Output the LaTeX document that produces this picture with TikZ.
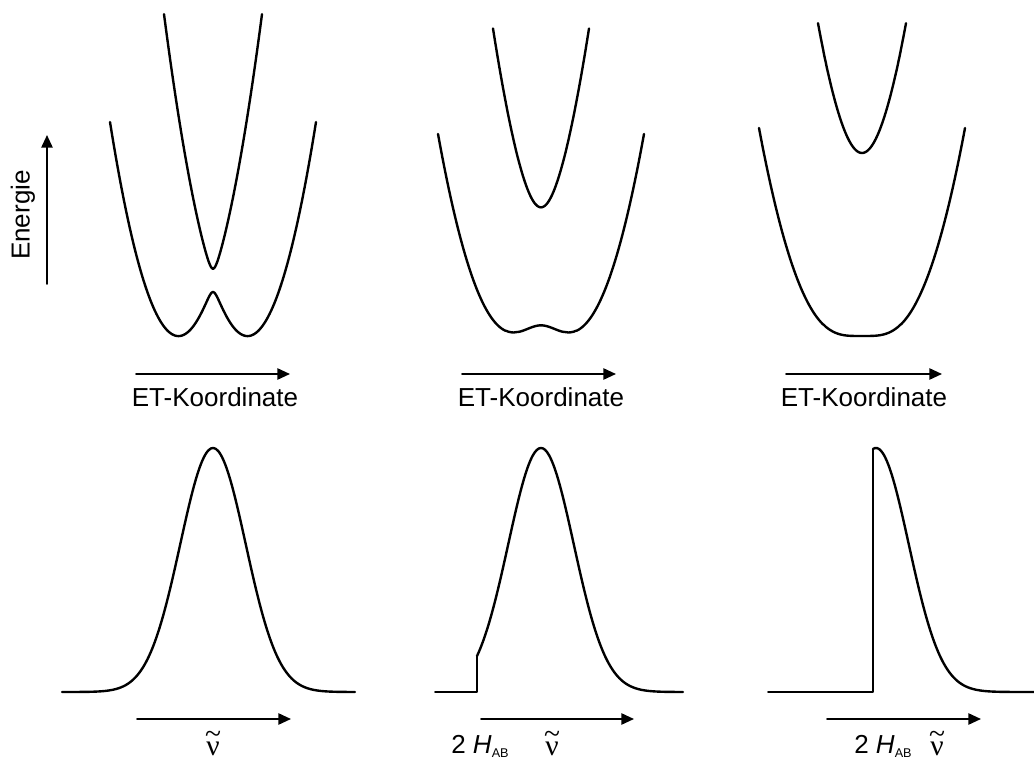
\documentclass[tikz,border=0pt]{standalone}
\usepackage{fontspec}
\setmainfont{Liberation Sans}
\newfontfamily\nufont{Liberation Serif}
\usetikzlibrary{arrows.meta}

\tikzset{
  curve/.style={line width=1.7pt},
  stepline/.style={line width=1.2pt},
  axisarrow/.style={line width=1.3pt, -{Triangle[length=9pt,width=8pt]}},
  lbl/.style={font=\fontsize{18.5}{20}\selectfont, inner sep=0pt},
}
\newcommand{\wavenum}{{\nufont\fontsize{21}{22}\selectfont
  \ooalign{ν\cr\hidewidth\raisebox{0.40em}{\char"7E}\hidewidth\cr}}}
\newcommand{\twoHab}{2 \textit{H}\raisebox{-0.35ex}{\fontsize{9}{9}\selectfont AB}}

\begin{document}
\begin{tikzpicture}[x=0.025cm, y=-0.025cm, line join=round, line cap=round,
  declare function={
    Elo(\u,\k,\d,\h)=\k*(\u*\u+\d*\d)-veclen(2*\k*\u*\d,\h);
    Eup(\u,\k,\d,\h)=\k*(\u*\u+\d*\d)+veclen(2*\k*\u*\d,\h);
    band(\x,\c)=244*exp(-((\x-\c)/32.7)^2/2);
  }]
  \useasboundingbox (0,0) rectangle (1034,761);

  % energy axis
  \coordinate (Es) at (47,284);
  \coordinate (Ee) at (47,135);
  \draw[axisarrow] (Es) -- (Ee);
  \node[lbl, rotate=90] (energy) at (23,215) {Energie};

  % potential curves, weak coupling
  \draw[curve] plot[domain=-103:103, samples=121, smooth] ({213+\x}, {335.5-Elo(\x,0.0458,34.7,11.5)});
  \draw[curve] plot[domain=-49:49, samples=71, smooth] ({213+\x}, {335.5-Eup(\x,0.0458,34.7,11.5)});
  % medium coupling
  \draw[curve] plot[domain=-103:103, samples=121, smooth] ({541+\x}, {314.5-Elo(\x,0.040,34.7,59)});
  \draw[curve] plot[domain=-48:48, samples=71, smooth] ({541+\x}, {314.5-Eup(\x,0.040,34.7,59)});
  % strong coupling
  \draw[curve] plot[domain=-103:103, samples=121, smooth] ({862+\x}, {290.25-Elo(\x,0.038,34.7,91.5)});
  \draw[curve] plot[domain=-44:44, samples=71, smooth] ({862+\x}, {290.25-Eup(\x,0.038,34.7,91.5)});

  % ET coordinate axes
  \coordinate (et1s) at (136,374);
  \coordinate (et1e) at (290,374);
  \coordinate (et2s) at (462,374);
  \coordinate (et2e) at (616,374);
  \coordinate (et3s) at (786,374);
  \coordinate (et3e) at (942,374);
  \draw[axisarrow] (et1s) -- (et1e);
  \draw[axisarrow] (et2s) -- (et2e);
  \draw[axisarrow] (et3s) -- (et3e);
  \node[lbl, anchor=base] (et1) at (215,407) {ET-Koordinate};
  \node[lbl, anchor=base] (et2) at (541,407) {ET-Koordinate};
  \node[lbl, anchor=base] (et3) at (864,407) {ET-Koordinate};

  % absorption bands
  \draw[curve] plot[domain=62:355, samples=121, smooth] (\x, {692-band(\x,213)});
  \draw[stepline] (435,692) -- (477,692) -- (477,{692-band(477,541)});
  \draw[curve] plot[domain=477:683, samples=101, smooth] (\x, {692-band(\x,541)});
  \draw[stepline] (768,692) -- (873,692) -- (873,{692-band(873,876)});
  \draw[curve] plot[domain=873:1034, samples=81, smooth] (\x, {692-band(\x,876)});

  % wavenumber axes
  \coordinate (nu1s) at (137,719);
  \coordinate (nu1e) at (291,719);
  \coordinate (nu2s) at (481,719);
  \coordinate (nu2e) at (634,719);
  \coordinate (nu3s) at (827,719);
  \coordinate (nu3e) at (981,719);
  \draw[axisarrow] (nu1s) -- (nu1e);
  \draw[axisarrow] (nu2s) -- (nu2e);
  \draw[axisarrow] (nu3s) -- (nu3e);
  \node[lbl, anchor=base] (nu1) at (213,755) {\wavenum};
  \node[lbl, anchor=base] (nu2) at (552,755) {\wavenum};
  \node[lbl, anchor=base] (nu3) at (937,755) {\wavenum};
  \node[lbl, anchor=base west] (hab2) at (451,753) {\twoHab};
  \node[lbl, anchor=base west] (hab3) at (854,753) {\twoHab};
\end{tikzpicture}
\end{document}
